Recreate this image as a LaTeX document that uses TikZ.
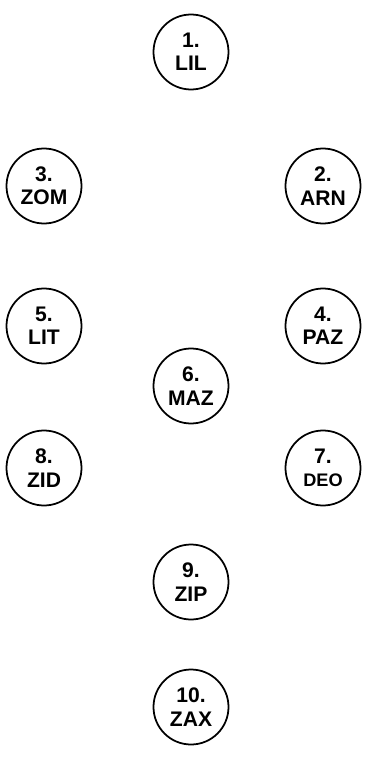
\documentclass[tikz,border=0pt]{standalone}
\usepackage{fontspec}
\setmainfont{Liberation Sans}
\tikzset{
  ring/.style={circle, draw, line width=1.5pt, minimum size=2.25cm, inner sep=0pt,
    align=center, font=\fontsize{18}{20}\selectfont\bfseries}
}
\begin{document}
\begin{tikzpicture}[x=0.03cm, y=-0.03cm]
                % Fix the page size
                \useasboundingbox (0,0) rectangle (379,763);
                
                % Draw the top circle
                \node[ring] (lil) at (191,52) {1.\\LIL};
                
                % Draw the left and right columns
                \node[ring] (zom) at (44,186) {3.\\ZOM};
                \node[ring] (arn) at (323,186) {2.\\ARN};
                \node[ring] (lit) at (44,326) {5.\\LIT};
                \node[ring] (paz) at (323,326) {4.\\PAZ};
                \node[ring] (zid) at (44,468) {8.\\ZID};
                \node[ring] (deo) at (323,468) {7.\\{\fontsize{15.5}{20}\selectfont DEO}};
                
                % Draw the middle column
                \node[ring] (maz) at (191,386) {6.\\MAZ};
                \node[ring] (zip) at (191,582) {9.\\ZIP};
                \node[ring] (zax) at (191,707) {10.\\ZAX};
                
            \end{tikzpicture}
\end{document}
